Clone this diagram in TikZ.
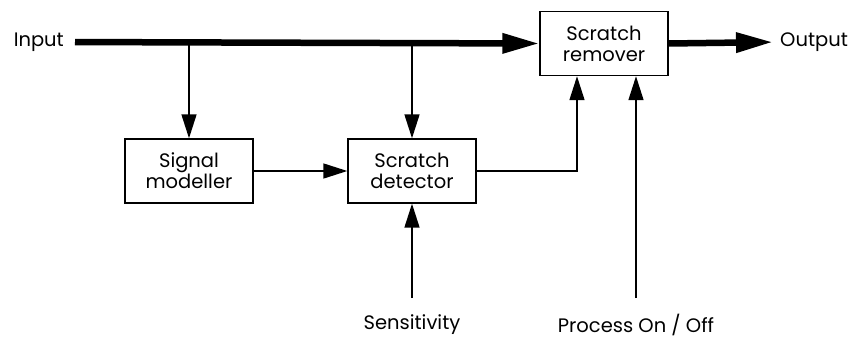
\documentclass[tikz,border=0pt]{standalone}
\usepackage{fontspec}
\setmainfont{Poppins}
\usetikzlibrary{arrows.meta, positioning}

\tikzset{
    block/.style={draw, line width=1.4pt, minimum width=128pt, minimum height=64pt, align=center, inner sep=2pt, font=\fontsize{19.5}{21}\selectfont},
    label/.style={font=\fontsize{19.5}{21}\selectfont, inner sep=0pt},
    mainline/.style={line width=6.5pt, -{Triangle[length=37pt, width=19pt]}},
    sigline/.style={line width=1.5pt, -{Triangle[length=24pt, width=15pt]}}
}

\begin{document}
\begin{tikzpicture}[x=1pt, y=-1pt]
    \useasboundingbox (0,0) rectangle (857,338);

    % Blocks
    \node[block] (remover) at (604,43.5) {Scratch\\remover};
    \node[block] (modeller) at (189,171) {Signal\\modeller};
    \node[block] (detector) at (412,171) {Scratch\\detector};

    % Inputs and outputs
    \node[label, anchor=east] (input) at (64,42) {Input};
    \node[label, anchor=west] (output) at (780,42) {Output};
    \node[label, anchor=north] (sens) at (412,314) {Sensitivity};
    \node[label, anchor=north] (onoff) at (636,314) {Process On / Off};

    % Branch points on the main signal
    \coordinate (tapA) at (189,42);
    \coordinate (tapB) at (412,42);
    \coordinate (bend) at (577,171);

    % Main signal path
    \draw[mainline, shorten <=11pt] (input.east) -- (remover.west);
    \draw[mainline, shorten >=7pt] (remover.east) -- (output.west);

    % Side paths
    \draw[sigline] (tapA) -- (modeller.north);
    \draw[sigline] (tapB) -- (detector.north);
    \draw[sigline] (modeller.east) -- (detector.west);
    \draw[sigline] (detector.east) -- (bend) -- (remover.south -| bend);
    \draw[sigline, shorten <=16pt] (sens.north) -- (detector.south);
    \draw[sigline, shorten <=16pt] (onoff.north) -- (remover.south -| onoff.north);
\end{tikzpicture}
\end{document}
